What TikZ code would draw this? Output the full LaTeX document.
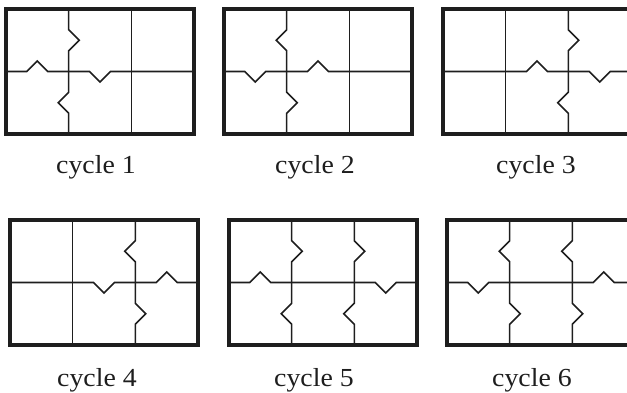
\documentclass[tikz,border=0pt]{standalone}
\usepackage{fontspec}
\setmainfont[FakeStretch=1.07]{Liberation Serif}
\definecolor{ink}{HTML}{1E1E1E}
\newcommand\pzw{62.667}
\newcommand\pzh{62.5}
\newcommand\pzd{10.5}
\newcommand\pzt{10.5}
\tikzset{
  frame/.style={draw=ink,line width=3.2pt},
  inner/.style={draw=ink,line width=1.6pt,line join=miter},
  lab/.style={anchor=base,font=\fontsize{26}{30}\selectfont,text=ink,inner sep=0pt}
}
% vertical cut at x=#1, top tab #2, bottom tab #3 (+1 right, -1 left, 0 none)
\newcommand\pzV[3]{%
  \draw[inner] (#1,0) -- (#1,{-(\pzh/2-\pzd)}) -- ({#1+(#2)*\pzt},{-\pzh/2}) -- (#1,{-(\pzh/2+\pzd)})
    -- (#1,{-(1.5*\pzh-\pzd)}) -- ({#1+(#3)*\pzt},{-1.5*\pzh}) -- (#1,{-(1.5*\pzh+\pzd)}) -- (#1,{-2*\pzh});}
% horizontal cut, tabs #1 #2 #3 (+1 up, -1 down, 0 none)
\newcommand\pzH[3]{%
  \draw[inner] (0,-\pzh)
    -- ({0.5*\pzw-\pzd},-\pzh) -- ({0.5*\pzw},{-\pzh+(#1)*\pzt}) -- ({0.5*\pzw+\pzd},-\pzh)
    -- ({1.5*\pzw-\pzd},-\pzh) -- ({1.5*\pzw},{-\pzh+(#2)*\pzt}) -- ({1.5*\pzw+\pzd},-\pzh)
    -- ({2.5*\pzw-\pzd},-\pzh) -- ({2.5*\pzw},{-\pzh+(#3)*\pzt}) -- ({2.5*\pzw+\pzd},-\pzh)
    -- ({3*\pzw},-\pzh);}
% panel at (#1,#2) top-left, V1 tabs #3 #4, V2 tabs #5 #6, H tabs #7 #8 #9
\newcommand\panel[9]{%
  \begin{scope}[shift={(#1,-#2)}]
    \pzH{#7}{#8}{#9}
    \pzV{\pzw}{#3}{#4}
    \pzV{2*\pzw}{#5}{#6}
    \draw[frame] (0,0) rectangle ({3*\pzw},{-2*\pzh});
  \end{scope}}
\begin{document}
\begin{tikzpicture}[x=1pt,y=1pt]
  \useasboundingbox (0,0) rectangle (627,-393);
  \clip (0,0) rectangle (627,-393);
  \panel{6}{9}{1}{-1}{0}{0}{1}{-1}{0}
  \panel{224}{9}{-1}{1}{0}{0}{-1}{1}{0}
  \panel{443}{9}{0}{0}{1}{-1}{0}{1}{-1}
  \panel{10}{220}{0}{0}{-1}{1}{0}{-1}{1}
  \panel{229}{220}{1}{-1}{1}{-1}{1}{0}{-1}
  \panel{447}{220}{-1}{1}{-1}{1}{-1}{0}{1}
  \node[lab] (c1) at (96,-174) {cycle 1};
  \node[lab] (c2) at (315,-174) {cycle 2};
  \node[lab] (c3) at (536,-174) {cycle 3};
  \node[lab] (c4) at (97,-386) {cycle 4};
  \node[lab] (c5) at (314,-386) {cycle 5};
  \node[lab] (c6) at (532,-386) {cycle 6};
\end{tikzpicture}
\end{document}
